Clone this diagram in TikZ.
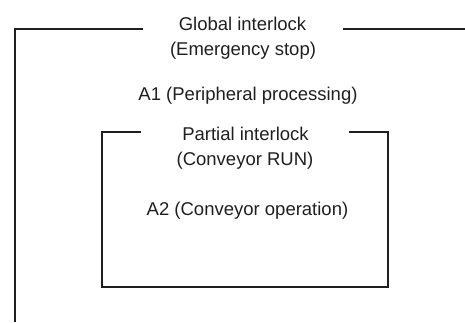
\documentclass[tikz,border=0pt]{standalone}
\usepackage{fontspec}
\setmainfont{Liberation Sans}
\begin{document}
\begin{tikzpicture}[x=1pt,y=-1pt,
  lbl/.style={anchor=base,inner sep=0pt,font=\fontsize{18.5}{22}\selectfont,text=black!88},
  frame/.style={line width=1.1pt,draw=black!88}]
\useasboundingbox (0,0) rectangle (465,322);
% texts
\node[lbl] (g1) at (242.5,30.7) {Global interlock};
\node[lbl] (g2) at (243,55) {(Emergency stop)};
\node[lbl] (a1) at (248,100) {A1 (Peripheral processing)};
\node[lbl] (p1) at (245.5,140.7) {Partial interlock};
\node[lbl] (p2) at (245,165) {(Conveyor RUN)};
\node[lbl] (a2) at (247.5,215) {A2 (Conveyor operation)};
% outer frame
\coordinate (oL) at (143,29);
\coordinate (oTL) at (15,29);
\coordinate (oBL) at (15,322);
\coordinate (oR) at (343,29);
\coordinate (oTR) at (465,29);
\draw[frame] (oL) -- (oTL) -- (oBL);
\draw[frame] (oR) -- (oTR);
% inner frame
\coordinate (iL) at (141,132);
\coordinate (iTL) at (102,132);
\coordinate (iBL) at (102,287);
\coordinate (iBR) at (388,287);
\coordinate (iTR) at (388,132);
\coordinate (iR) at (349,132);
\draw[frame] (iL) -- (iTL) -- (iBL) -- (iBR) -- (iTR) -- (iR);
\end{tikzpicture}
\end{document}
